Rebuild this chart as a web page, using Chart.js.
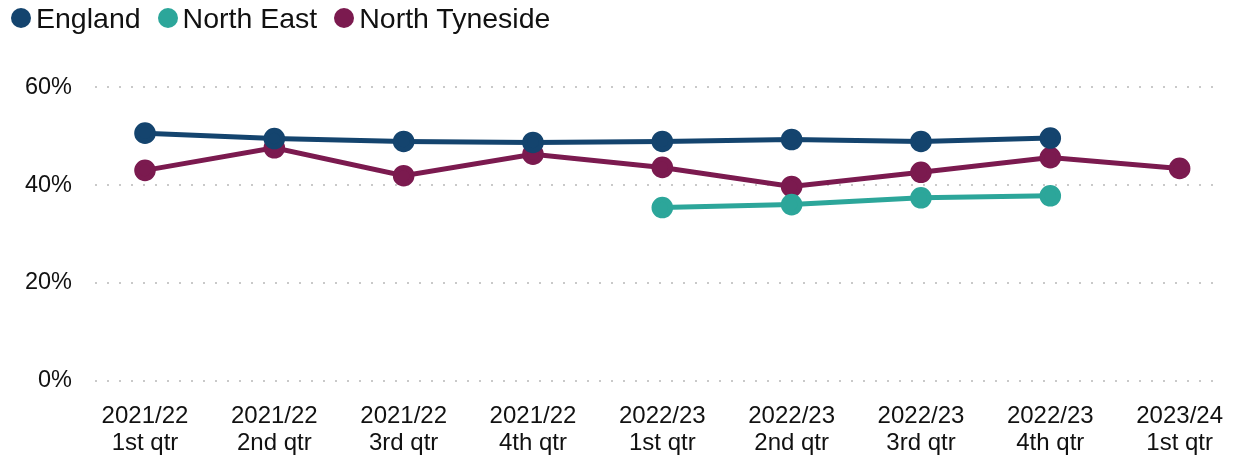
<!DOCTYPE html>
<html>
<head>
<meta charset="utf-8">
<script src="https://cdn.jsdelivr.net/npm/chart.js@4"></script>
<style>
  html, body { margin: 0; padding: 0; background: #fff; overflow: hidden; }
  #wrap { position: relative; width: 1245px; height: 468px; }
  #legend {
    position: absolute; top: 0; left: 11px; height: 36px;
    display: flex; align-items: center;
    font-family: 'Liberation Sans', Arial, sans-serif; font-size: 28.5px; color: #111;
  }
  #legend .item { display: flex; align-items: center; margin-right: 17px; }
  #legend .dot { width: 20px; height: 20px; border-radius: 50%; margin-right: 5px; }
</style>
</head>
<body>
<div id="wrap">
  <div id="legend"></div>
  <canvas id="myChart"></canvas>
</div>
<script>
// quarters on the x axis (two lines each)
const quarters = [
  ["2021/22", "1st qtr"], ["2021/22", "2nd qtr"], ["2021/22", "3rd qtr"], ["2021/22", "4th qtr"],
  ["2022/23", "1st qtr"], ["2022/23", "2nd qtr"], ["2022/23", "3rd qtr"], ["2022/23", "4th qtr"],
  ["2023/24", "1st qtr"]
];

// values (%)
const england = [50.6, 49.5, 48.9, 48.7, 48.9, 49.3, 48.9, 49.6, null];
const northEast = [null, null, null, null, 35.4, 36.0, 37.4, 37.8, null];
const northTyneside = [43.0, 47.6, 41.9, 46.3, 43.6, 39.7, 42.6, 45.6, 43.4];

const yTicks = [0, 20, 40, 60];

const colors = { england: "#14446e", northEast: "#2ca69a", northTyneside: "#7b1a4f" };

function series(label, data, color) {
  return {
    label: label,
    data: data,
    borderColor: color,
    backgroundColor: color,
    pointBackgroundColor: color,
    pointBorderColor: color,
    borderWidth: 5,
    pointRadius: 8.3,
    pointHoverRadius: 8.3,
    tension: 0,
    spanGaps: false
  };
}

// dotted horizontal gridlines, a bit wider than the plot area like the original
const dottedGrid = {
  id: "dottedGrid",
  beforeDatasetsDraw(chart) {
    const ctx = chart.ctx;
    const y = chart.scales.y;
    const area = chart.chartArea;
    ctx.save();
    ctx.strokeStyle = "#c9c9c9";
    ctx.lineWidth = 2;
    ctx.setLineDash([2, 10]);
    yTicks.forEach(v => {
      const py = Math.round(y.getPixelForValue(v));
      ctx.beginPath();
      ctx.moveTo(area.left - 50, py);
      ctx.lineTo(area.right + 39, py);
      ctx.stroke();
    });
    ctx.restore();
  }
};

Chart.defaults.font.family = "'Liberation Sans', Arial, sans-serif";
Chart.defaults.color = "#111";

const myChart = document.getElementById("myChart");

const chart = new Chart(myChart, {
  type: "line",
  data: {
    labels: quarters,
    datasets: [
      series("England", england, colors.england),
      series("North East", northEast, colors.northEast),
      series("North Tyneside", northTyneside, colors.northTyneside)
    ]
  },
  options: {
    responsive: true,
    maintainAspectRatio: false,
    animation: false,
    layout: { padding: { left: 0, right: 48.3, top: 68, bottom: 0 } },
    plugins: {
      tooltip: { enabled: false },
      legend: { display: false }
    },
    scales: {
      x: {
        offset: false,
        grid: { display: false, drawTicks: false },
        border: { display: false },
        ticks: {
          padding: 22,
          maxRotation: 0,
          autoSkip: false,
          color: "#111",
          font: { size: 24, lineHeight: 1.125 }
        },
        afterFit(scale) { scale.height = 75.5; }
      },
      y: {
        min: 0,
        max: 60,
        grid: { display: false, drawTicks: false },
        border: { display: false },
        afterFit(scale) { scale.width = 145; },
        afterBuildTicks(scale) { scale.ticks = yTicks.map(v => ({ value: v })); },
        ticks: {
          padding: 73,
          color: "#111",
          font: { size: 23.5 },
          callback: v => v + "%"
        }
      }
    }
  },
  plugins: [dottedGrid]
});

// legend as plain html, built from the datasets
const legendBox = document.getElementById("legend");
chart.data.datasets.forEach(ds => {
  const item = document.createElement("span");
  item.className = "item";
  const dot = document.createElement("span");
  dot.className = "dot";
  dot.style.background = ds.borderColor;
  const text = document.createElement("span");
  text.textContent = ds.label;
  item.appendChild(dot);
  item.appendChild(text);
  legendBox.appendChild(item);
});
</script>
</body>
</html>
